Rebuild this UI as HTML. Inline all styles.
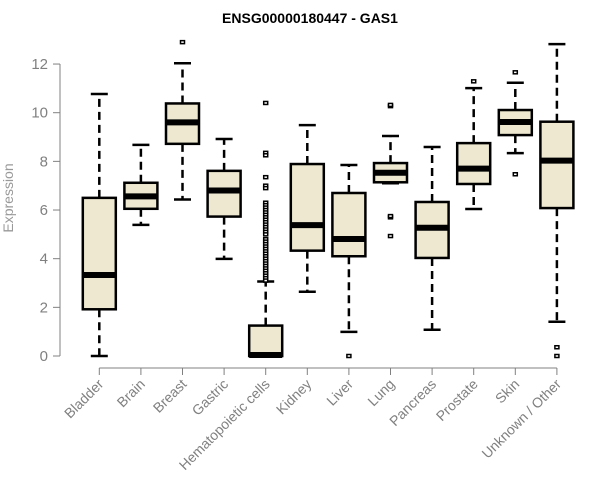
<!DOCTYPE html>
<html><head><meta charset="utf-8"><style>
body{margin:0;background:#fff}
svg{display:block}
text{font-family:"Liberation Sans",sans-serif}
</style></head><body>
<svg id="chart" width="600" height="500" viewBox="0 0 600 500" xmlns="http://www.w3.org/2000/svg">
<text x="310" y="23" text-anchor="middle" font-size="14" font-weight="bold">ENSG00000180447 - GAS1</text>
<text transform="translate(13,198) rotate(-90)" text-anchor="middle" font-size="14" fill="#999">Expression</text>
<g id="axes"></g><g id="boxes"></g>
</svg>
<script>
const categories=["Bladder","Brain","Breast","Gastric","Hematopoietic cells","Kidney","Liver","Lung","Pancreas","Prostate","Skin","Unknown / Other"];
const whiskerLow=[0,5.39,6.43,3.99,0,2.64,0.99,7.1,1.08,6.04,8.34,1.41];
const q1=[1.92,6.05,8.72,5.73,0,4.33,4.10,7.14,4.03,7.07,9.08,6.08];
const medians=[3.33,6.56,9.6,6.8,0.04,5.38,4.81,7.53,5.27,7.70,9.62,8.03];
const q3=[6.5,7.12,10.38,7.61,1.25,7.89,6.70,7.93,6.33,8.75,10.11,9.63];
const whiskerHigh=[10.77,8.68,12.03,8.92,3.06,9.49,7.85,9.04,8.59,11.01,11.23,12.82];
const outliers=[[],[],[12.9],[],[10.4,8.35,8.25,7.35,7.0,6.9,6.3,6.2,6.1,6.0,5.9,5.8,5.7,5.6,5.5,5.4,5.3,5.2,5.1,5.0,4.8,4.7,4.6,4.5,4.4,4.3,4.2,4.1,4.0,3.9,3.8,3.7,3.6,3.5,3.4,3.3,3.2,3.1],[],[0],[10.27,10.32,5.70,5.75,4.93],[],[11.29],[11.66,7.47],[0.36,0]];
const yTicks=[0,2,4,6,8,10,12];
const NS="http://www.w3.org/2000/svg";
const y=v=>356-v*24.33;
const x=i=>99.3+i*41.6;
function mk(p,tag,a){const e=document.createElementNS(NS,tag);for(const k in a)e.setAttribute(k,a[k]);p.appendChild(e);return e;}
const ax=document.getElementById('axes'),bx=document.getElementById('boxes');
const g='#808080';
let l=mk(ax,'line',{x1:60,x2:60,y1:y(12),y2:y(0),stroke:g});

yTicks.forEach(t=>{
 mk(ax,'line',{x1:53,x2:60,y1:y(t),y2:y(t),stroke:g});
 const tx=mk(ax,'text',{x:48,y:y(t)+5,'text-anchor':'end','font-size':15,fill:g});
 tx.textContent=t;
 
 
});
l=mk(ax,'line',{x1:x(0),x2:x(11),y1:368,y2:368,stroke:g});

categories.forEach((c,i)=>{
 mk(ax,'line',{x1:x(i),x2:x(i),y1:368,y2:375,stroke:g});
 const tx=mk(ax,'text',{transform:`translate(${x(i)+5},${385}) rotate(-45)`,'text-anchor':'end','font-size':14,fill:g});
 tx.textContent=c;
 
 
 const grp=mk(bx,'g',{});
 
 
 const cx=x(i),hw=16.5,cw=8.5;
 mk(grp,'line',{x1:cx,x2:cx,y1:y(q3[i]),y2:y(whiskerHigh[i]),stroke:'#000','stroke-width':2.5,'stroke-dasharray':'8,5'});
 mk(grp,'line',{x1:cx,x2:cx,y1:y(q1[i]),y2:y(whiskerLow[i]),stroke:'#000','stroke-width':2.5,'stroke-dasharray':'8,5'});
 mk(grp,'line',{x1:cx-cw,x2:cx+cw,y1:y(whiskerHigh[i]),y2:y(whiskerHigh[i]),stroke:'#000','stroke-width':2.5});
 mk(grp,'line',{x1:cx-cw,x2:cx+cw,y1:y(whiskerLow[i]),y2:y(whiskerLow[i]),stroke:'#000','stroke-width':2.5});
 mk(grp,'rect',{x:cx-hw,y:y(q3[i]),width:2*hw,height:Math.max(y(q1[i])-y(q3[i]),0.5),fill:'#ede8cf',stroke:'#000','stroke-width':2.5});
 mk(grp,'line',{x1:cx-hw,x2:cx+hw,y1:y(medians[i]),y2:y(medians[i]),stroke:'#000','stroke-width':6});
 outliers[i].forEach(v=>{
  const o=mk(grp,'rect',{x:cx-2,y:y(v)-1.5,width:4,height:3,fill:'#fff',stroke:'#000','stroke-width':1.5});
  
  
 });
});
</script>
</body></html>
